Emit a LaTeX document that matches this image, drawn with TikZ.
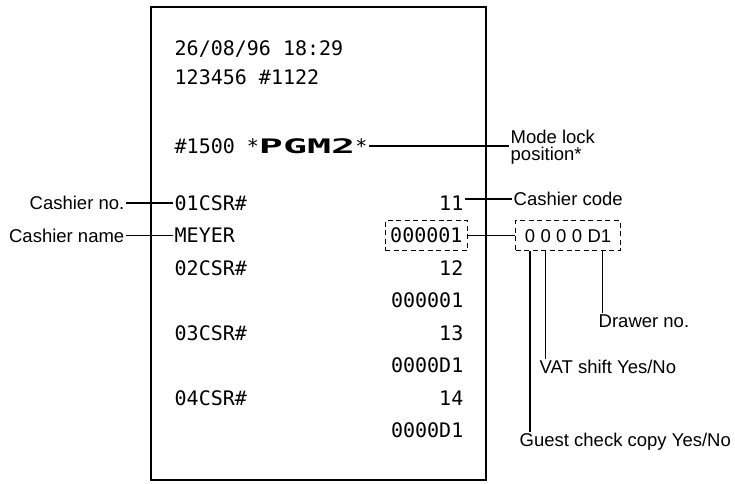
\documentclass[tikz,border=0pt]{standalone}
\usepackage{fontspec}
\setmainfont{Liberation Sans}
\newfontfamily\receiptfont{DejaVu Sans Mono}
\usepackage{tikz}
\usetikzlibrary{
  positioning,
  fit
}
\tikzset{
    rcpt/.style={inner sep=1.5pt, font=\fontsize{20}{22}\selectfont\receiptfont, text height=14.5pt, text depth=0pt},
    lcol/.style={rcpt, anchor=west},
    rcol/.style={rcpt, anchor=east},
    callout/.style={inner sep=1.5pt, font=\fontsize{18.5}{20}\selectfont, text height=13.3pt, text depth=0pt},
    codechar/.style={inner sep=0pt, font=\fontsize{18.5}{20}\selectfont, text height=13.3pt, text depth=0pt},
    dashbox/.style={draw, dash pattern=on 5pt off 3.5pt, line width=1.1pt},
    lead/.style={line width=1.2pt}
}

\begin{document}
\begin{tikzpicture}[x=1pt, y=-1pt]
                \useasboundingbox (0,0) rectangle (735,483);
                % receipt paper
                \draw[line width=1.5pt] (151,7) rectangle (486,480);
                \node[lcol] (date) at (173,48) {26/08/96 18:29};
                \node[lcol] (regno) at (173,77) {123456 \#1122};
                \node[lcol] (mode) at (173,146) {\#1500 *\scalebox{2.0}[1]{\bfseries PGM2}*};
                \node[lcol] (csr1) at (173,203) {01CSR\#};
                \node[lcol] (cname) at (173,235.5) {MEYER};
                \node[lcol] (csr2) at (173,268) {02CSR\#};
                \node[lcol] (csr3) at (173,333) {03CSR\#};
                \node[lcol] (csr4) at (173,398) {04CSR\#};
                \node[rcol] (code1) at (465,203) {11};
                \node[rcol, dashbox, inner xsep=5pt, minimum height=30pt] (sec1) at (468,235.5) {000001};
                \node[rcol] (code2) at (465,268) {12};
                \node[rcol] (sec2) at (465,300.5) {000001};
                \node[rcol] (code3) at (465,333) {13};
                \node[rcol] (sec3) at (465,365.5) {0000D1};
                \node[rcol] (code4) at (465,398) {14};
                \node[rcol] (sec4) at (465,430.5) {0000D1};
                % labels on the left
                \node[callout, anchor=east] (cashno) at (126,203) {Cashier no.};
                \node[callout, anchor=east] (cashname) at (126,235.5) {Cashier name};
                \draw[lead] (cashno.east) -- (csr1.west);
                \draw[lead] (cashname.east) -- (cname.west);
                % labels on the right
                \node[anchor=west, align=left, inner sep=1.5pt, font=\fontsize{18.5}{17}\selectfont] (modelock) at (509,147) {Mode lock\\position*};
                \draw[lead] (mode.east) -- (mode.east -| modelock.west);
                \node[callout, anchor=west] (cashcode) at (512,199) {Cashier code};
                \draw[lead] (code1.east |- cashcode.west) -- (cashcode.west);
                % secret code digits
                \node[codechar] (z1) at (530,235.5) {0};
                \node[codechar, right=5pt of z1] (z2) {0};
                \node[codechar, right=5pt of z2] (z3) {0};
                \node[codechar, right=5pt of z3] (z4) {0};
                \node[codechar, right=5pt of z4] (dd) {D1};
                \node[dashbox, fit=(z1)(dd), inner xsep=9pt, inner ysep=8pt] (codebox) {};
                \draw[lead] (sec1.east) -- (codebox.west);
                \coordinate (dtick) at ([xshift=3pt]dd.center);
                \node[callout, anchor=west] (drawer) at (597,321) {Drawer no.};
                \node[callout, anchor=west] (vatshift) at (538,367) {VAT shift Yes/No};
                \node[callout, anchor=west] (guest) at (518,440) {Guest check copy Yes/No};
                \draw[lead] (z1 |- codebox.south) -- (z1 |- guest.north);
                \draw[lead] (z2 |- codebox.south) -- (z2 |- vatshift.north);
                \draw[lead] (dtick |- codebox.south) -- (dtick |- drawer.north);
            \end{tikzpicture}
\end{document}
